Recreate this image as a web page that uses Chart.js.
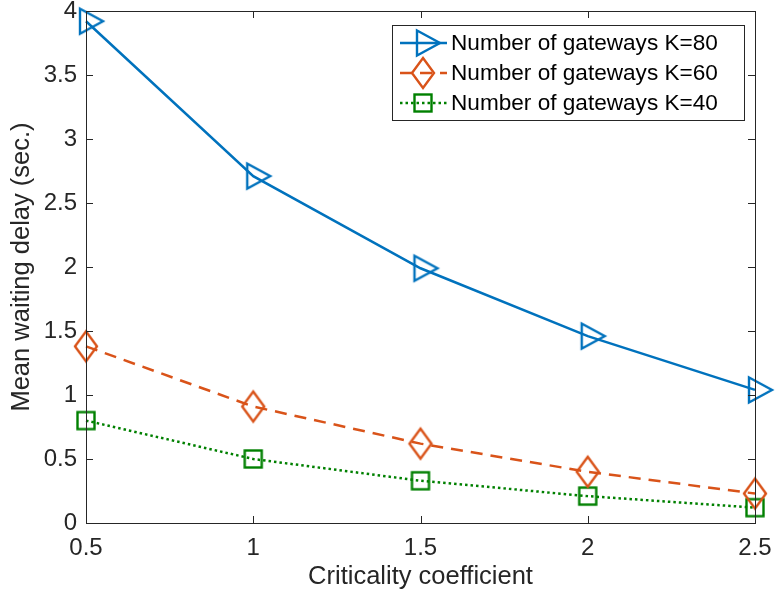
<!DOCTYPE html>
<html><head><meta charset="utf-8">
<script src="https://cdn.jsdelivr.net/npm/chart.js@4/dist/chart.umd.min.js"></script>
<style>html,body{margin:0;padding:0;background:#fff}#wrap{width:777px;height:592px}</style>
</head><body><div id="wrap"><canvas id="c" width="777" height="592"></canvas></div>
<script>
const xValues = [0.5, 1, 1.5, 2, 2.5];
const k80 = [3.92, 2.71, 1.99, 1.46, 1.04];
const k60 = [1.38, 0.91, 0.62, 0.40, 0.23];
const k40 = [0.80, 0.50, 0.33, 0.21, 0.12];
const seriesLabels = ['Number of gateways K=80', 'Number of gateways K=60', 'Number of gateways K=40'];
const xTicks = [0.5, 1, 1.5, 2, 2.5];
const yTicks = [0, 0.5, 1, 1.5, 2, 2.5, 3, 3.5, 4];

const BLUE = '#0072BD', ORANGE = '#D95319', GREEN = '#008000', AX = '#262626';
const FONT = '"Liberation Sans", Arial, Helvetica, sans-serif';
const LW = 2.5;
const DASH = [12, 8], DOT = [2.5, 3];

function mk(draw) {
  const c = document.createElement('canvas');
  c.width = 44; c.height = 44;
  const g = c.getContext('2d');
  g.lineWidth = 2.4; g.lineJoin = 'miter';
  draw(g);
  return c;
}
const triImg = mk(g => { g.strokeStyle = BLUE; g.beginPath(); g.moveTo(16, 9.5); g.lineTo(39, 22); g.lineTo(16, 34.5); g.closePath(); g.stroke(); });
const diaImg = mk(g => { g.strokeStyle = ORANGE; g.beginPath(); g.moveTo(22, 7); g.lineTo(33, 22); g.lineTo(22, 37); g.lineTo(11, 22); g.closePath(); g.stroke(); });
const sqImg = mk(g => { g.strokeStyle = GREEN; g.strokeRect(13.5, 13.5, 17, 17); });

function pts(arr) { return xValues.map((x, i) => ({x: x, y: arr[i]})); }

const frame = {
  id: 'frame',
  afterDatasetsDraw(chart) {
    const {ctx, chartArea: a, scales} = chart;
    ctx.save();
    ctx.strokeStyle = AX; ctx.lineWidth = 1;
    ctx.strokeRect(Math.round(a.left) + 0.5, Math.round(a.top) + 0.5, Math.round(a.right - a.left), Math.round(a.bottom - a.top));
    const L = 7;
    ctx.beginPath();
    xTicks.forEach(v => {
      const x = Math.round(scales.x.getPixelForValue(v)) + 0.5;
      ctx.moveTo(x, a.bottom); ctx.lineTo(x, a.bottom - L);
      ctx.moveTo(x, a.top); ctx.lineTo(x, a.top + L);
    });
    yTicks.forEach(v => {
      const y = Math.round(scales.y.getPixelForValue(v)) + 0.5;
      ctx.moveTo(a.left, y); ctx.lineTo(a.left + L, y);
      ctx.moveTo(a.right, y); ctx.lineTo(a.right - L, y);
    });
    ctx.stroke();
    // legend
    const bx = 392.5, by = 25.5, bw = 352, bh = 95;
    ctx.fillStyle = '#fff'; ctx.fillRect(bx, by, bw, bh);
    ctx.strokeStyle = AX; ctx.strokeRect(bx, by, bw, bh);
    const rows = [43, 73, 103];
    const imgs = [triImg, diaImg, sqImg];
    const cols = [BLUE, ORANGE, GREEN];
    const dashes = [[], DASH, DOT];
    chart.data.datasets.forEach((ds, i) => {
      const y = rows[i];
      ctx.save();
      ctx.strokeStyle = cols[i]; ctx.lineWidth = LW; ctx.setLineDash(dashes[i]);
      ctx.beginPath(); ctx.moveTo(400, y); ctx.lineTo(447, y); ctx.stroke();
      ctx.restore();
      ctx.drawImage(imgs[i], 423 - 22, y - 22);
      ctx.fillStyle = '#000'; ctx.font = '22.6px ' + FONT; ctx.textBaseline = 'middle'; ctx.textAlign = 'left';
      ctx.fillText(ds.label, 451, y + 1);
    });
    ctx.restore();
  }
};

new Chart(document.getElementById('c'), {
  type: 'line',
  data: {
    datasets: [
      {label: seriesLabels[0], data: pts(k80), borderColor: BLUE, borderWidth: LW, pointStyle: triImg, fill: false, tension: 0},
      {label: seriesLabels[1], data: pts(k60), borderColor: ORANGE, borderWidth: LW, borderDash: DASH, pointStyle: diaImg, fill: false, tension: 0},
      {label: seriesLabels[2], data: pts(k40), borderColor: GREEN, borderWidth: LW, borderDash: DOT, pointStyle: sqImg, fill: false, tension: 0}
    ]
  },
  options: {
    responsive: false, animation: false, clip: false,
    layout: {padding: {top: 11, right: 22, left: 0, bottom: 0}},
    plugins: {legend: {display: false}, tooltip: {enabled: false}},
    scales: {
      x: {
        type: 'linear', min: 0.5, max: 2.5,
        afterBuildTicks: s => { s.ticks = xTicks.map(v => ({value: v})); },
        afterFit: s => { s.height = 69; s.paddingLeft = 0; s.paddingRight = 0; },
        grid: {display: false, drawTicks: false},
        border: {display: false},
        ticks: {color: AX, font: {family: FONT, size: 24}, padding: 11, maxRotation: 0, callback: v => String(v)},
        title: {display: true, text: 'Criticality coefficient', color: AX, font: {family: FONT, size: 25.5}, padding: {top: 0, bottom: 0}}
      },
      y: {
        type: 'linear', min: 0, max: 4,
        afterBuildTicks: s => { s.ticks = yTicks.map(v => ({value: v})); },
        afterFit: s => { s.width = 86; s.paddingTop = 0; s.paddingBottom = 0; },
        grid: {display: false, drawTicks: false},
        border: {display: false},
        ticks: {color: AX, font: {family: FONT, size: 24}, padding: 9, callback: v => String(v)},
        title: {display: true, text: 'Mean waiting delay (sec.)', color: AX, font: {family: FONT, size: 25.5}, padding: {top: 7, bottom: 0}}
      }
    }
  },
  plugins: [frame]
});
</script></body></html>
